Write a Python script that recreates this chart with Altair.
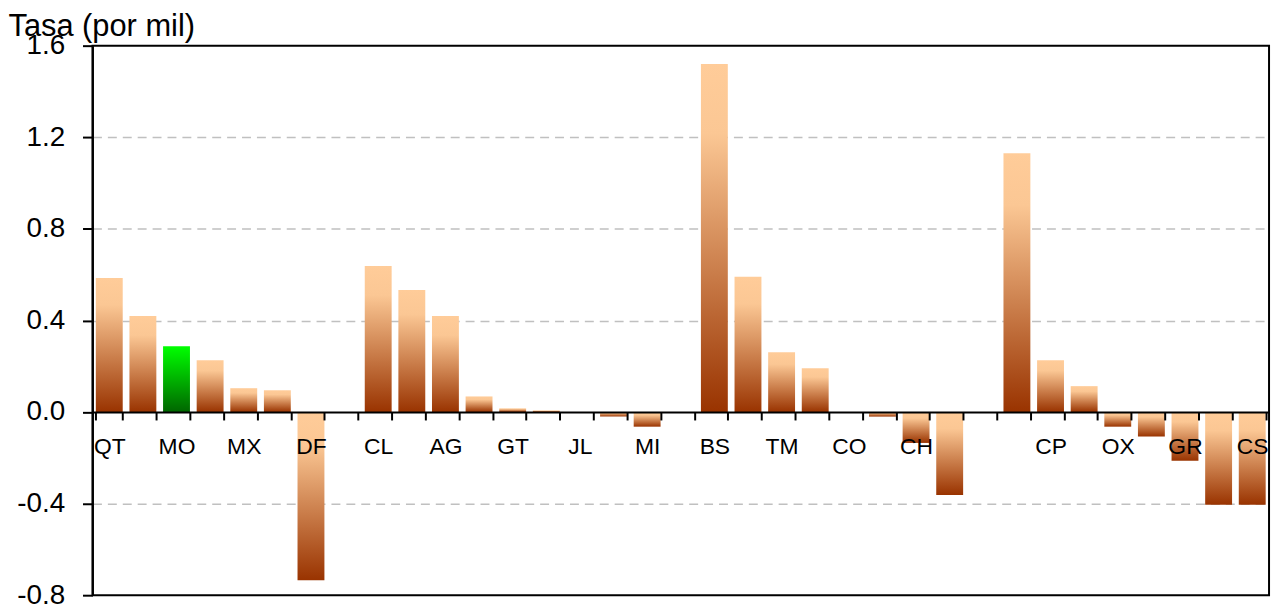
import json
import altair as alt
import pandas as pd

# Category slots (every other one labelled; blank slots separate the regional groups)
labels = ["QT", "", "MO", "", "MX", "", "DF", "",
          "CL", "", "AG", "", "GT", "", "JL", "", "MI", "",
          "BS", "", "TM", "", "CO", "", "CH", "", "",
          "", "CP", "", "OX", "", "GR", "", "CS"]
values = [0.585, 0.419, 0.287, 0.226, 0.104, 0.095, -0.735, None,
          0.638, 0.533, 0.419, 0.068, 0.016, 0.007, 0.0, -0.02, -0.064, None,
          1.52, 0.591, 0.261, 0.191, 0.0, -0.02, -0.135, -0.362, None,
          1.13, 0.226, 0.113, -0.064, -0.107, -0.213, -0.405, -0.405]
highlight_slots = [2]  # MO
y_ticks = [-0.8, -0.4, 0.0, 0.4, 0.8, 1.2, 1.6]
y_domain = [-0.8, 1.6]

slots = list(range(len(labels)))
df = pd.DataFrame({
    "slot": slots,
    "label": labels,
    "value": values,
    "hl": [s in highlight_slots for s in slots],
})
df = df[df["value"].notna()]

W, H = 1184, 553
FONT = "Liberation Sans"
zero_offset = -H * (0 - y_domain[0]) / (y_domain[1] - y_domain[0])

label_expr = json.dumps(labels) + "[datum.value]"

x_enc = alt.X(
    "slot:O",
    scale=alt.Scale(domain=slots, paddingInner=0.2, paddingOuter=0.1),
    axis=alt.Axis(
        title=None, orient="bottom", offset=zero_offset, labelExpr=label_expr,
        labelAngle=0, tickBand="extent", tickSize=8, tickColor="black",
        tickWidth=2, domainColor="black", domainWidth=2, labelPadding=16,
        labelFontSize=23, labelFont=FONT, labelColor="black", zindex=1,
        labelOverlap=False,
    ),
)
edge_test = "datum.value >= 1.59 || datum.value <= -0.79 || abs(datum.value) < 0.01"
y_enc = alt.Y(
    "value:Q",
    scale=alt.Scale(domain=y_domain, nice=False, zero=True),
    axis=alt.Axis(
        title="Tasa (por mil)", values=y_ticks,
        labelExpr="datum.value < 0 ? '-' + format(abs(datum.value), '.1f') : format(datum.value, '.1f')",
        labelFontSize=28, labelFont=FONT, labelColor="black", labelPadding=18,
        tickSize=10, tickColor="black", tickWidth=2, domainColor="black",
        domainWidth=2, grid=True, gridColor="#c0c0c0", gridDash=[9, 6],
        gridWidth=1.5,
        gridOpacity={"condition": {"test": edge_test, "value": 0}, "value": 1},
        titleAngle=0, titleAlign="left",
        titleBaseline="alphabetic", titleX=-85, titleY=-10, titleFontSize=31,
        titleFont=FONT, titleFontWeight="normal", titleColor="black",
    ),
)

brown = alt.Gradient(
    gradient="linear", x1=0, x2=0, y1=0, y2=1,
    stops=[alt.GradientStop(offset=0, color="#FFCC99"),
           alt.GradientStop(offset=0.2, color="#FBC794"),
           alt.GradientStop(offset=1, color="#993300")],
)
green = alt.Gradient(
    gradient="linear", x1=0, x2=0, y1=0, y2=1,
    stops=[alt.GradientStop(offset=0, color="#00FF00"),
           alt.GradientStop(offset=1, color="#006600")],
)

base = alt.Chart(df).encode(x=x_enc, y=y_enc)
bars = base.mark_bar(color=brown).transform_filter("!datum.hl")
hl = base.mark_bar(color=green).transform_filter("datum.hl")

chart = alt.layer(bars, hl).properties(
    width=W, height=H,
    background="white",
    autosize=alt.AutoSizeParams(type="none"),
    padding={"left": 85, "top": 36, "right": 6, "bottom": 12},
).configure_view(stroke="black", strokeWidth=2)

chart.save("out.html", embed_options={"renderer": "svg", "actions": False})
